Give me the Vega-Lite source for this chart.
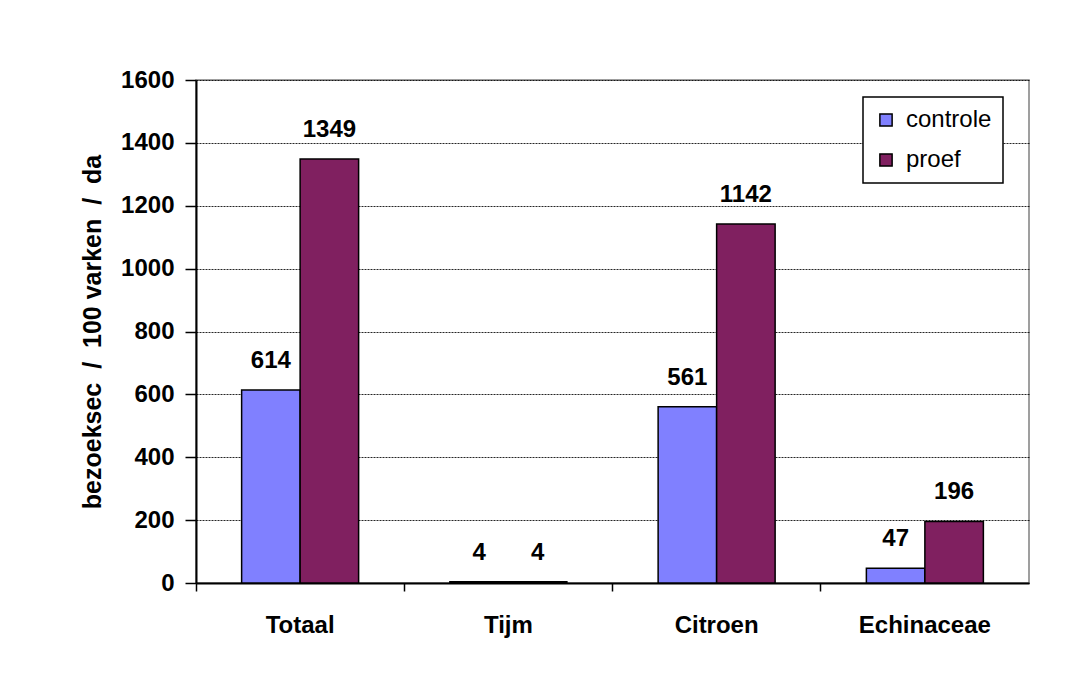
{
  "$schema": "https://vega.github.io/schema/vega-lite/v6.json",
  "autosize": {"type": "none"},
  "width": 833,
  "height": 503,
  "padding": {"left": 196, "top": 80, "right": 45, "bottom": 103},
  "background": "white",
  "config": {
    "font": "Liberation Sans",
    "view": {"stroke": "#808080", "strokeWidth": 1.5},
    "legend": {"strokeColor": "black", "strokeWidth": 1.5, "fillColor": "white"}
  },
  "data": {
    "values": [
      {"groep": "Totaal", "behandeling": "controle", "waarde": 614},
      {"groep": "Totaal", "behandeling": "proef", "waarde": 1349},
      {"groep": "Tijm", "behandeling": "controle", "waarde": 4},
      {"groep": "Tijm", "behandeling": "proef", "waarde": 4},
      {"groep": "Citroen", "behandeling": "controle", "waarde": 561},
      {"groep": "Citroen", "behandeling": "proef", "waarde": 1142},
      {"groep": "Echinaceae", "behandeling": "controle", "waarde": 47},
      {"groep": "Echinaceae", "behandeling": "proef", "waarde": 196}
    ]
  },
  "encoding": {
    "x": {
      "field": "groep",
      "type": "nominal",
      "sort": ["Totaal", "Tijm", "Citroen", "Echinaceae"],
      "scale": {"paddingInner": 0, "paddingOuter": 0},
      "axis": {
        "title": null,
        "labelAngle": 0,
        "labelFont": "Liberation Sans",
        "labelFontWeight": "bold",
        "labelFontSize": 24,
        "labelColor": "black",
        "labelPadding": 22,
        "bandPosition": 0,
        "domainColor": "black",
        "domainWidth": 2,
        "tickColor": "black",
        "tickWidth": 1.5,
        "tickSize": 8,
        "grid": false
      }
    },
    "xOffset": {
      "field": "behandeling",
      "type": "nominal",
      "scale": {"paddingInner": 0, "paddingOuter": 0.78}
    },
    "y": {
      "field": "waarde",
      "type": "quantitative",
      "scale": {"domain": [0, 1600], "nice": false},
      "axis": {
        "title": "bezoeksec \u00a0/ \u00a0100 varken \u00a0/ \u00a0da",
        "titleFont": "Liberation Sans",
        "titleFontWeight": "bold",
        "titleFontSize": 25,
        "titleColor": "black",
        "titlePadding": 15,
        "format": "d",
        "values": [0, 200, 400, 600, 800, 1000, 1200, 1400, 1600],
        "labelFont": "Liberation Sans",
        "labelFontWeight": "bold",
        "labelFontSize": 24,
        "labelColor": "black",
        "labelPadding": 11,
        "domainColor": "black",
        "domainWidth": 2,
        "tickColor": "black",
        "tickWidth": 1.5,
        "tickSize": 11,
        "grid": true,
        "gridColor": "#000000",
        "gridDash": [2, 1],
        "gridWidth": 1,
        "gridOpacity": 0.85
      }
    }
  },
  "layer": [
    {
      "mark": {"type": "bar", "stroke": "black", "strokeWidth": 1.5},
      "encoding": {
        "color": {
          "field": "behandeling",
          "type": "nominal",
          "scale": {"domain": ["controle", "proef"], "range": ["#8080FF", "#802060"]},
          "legend": {
            "title": null,
            "orient": "none",
            "legendX": 667,
            "legendY": 17,
            "direction": "vertical",
            "symbolType": "square",
            "symbolSize": 150,
            "symbolStrokeColor": "black",
            "symbolStrokeWidth": 1.5,
            "symbolOpacity": 1,
            "labelFont": "Liberation Sans",
            "labelFontSize": 24,
            "labelColor": "black",
            "labelOffset": 8,
            "rowPadding": 16,
            "padding": 11,
            "strokeColor": "black",
            "fillColor": "white"
          }
        }
      }
    },
    {
      "mark": {
        "type": "text",
        "dy": -22,
        "baseline": "alphabetic",
        "font": "Liberation Sans",
        "fontWeight": "bold",
        "fontSize": 24,
        "color": "black"
      },
      "encoding": {
        "text": {"field": "waarde", "type": "quantitative"}
      }
    }
  ]
}
